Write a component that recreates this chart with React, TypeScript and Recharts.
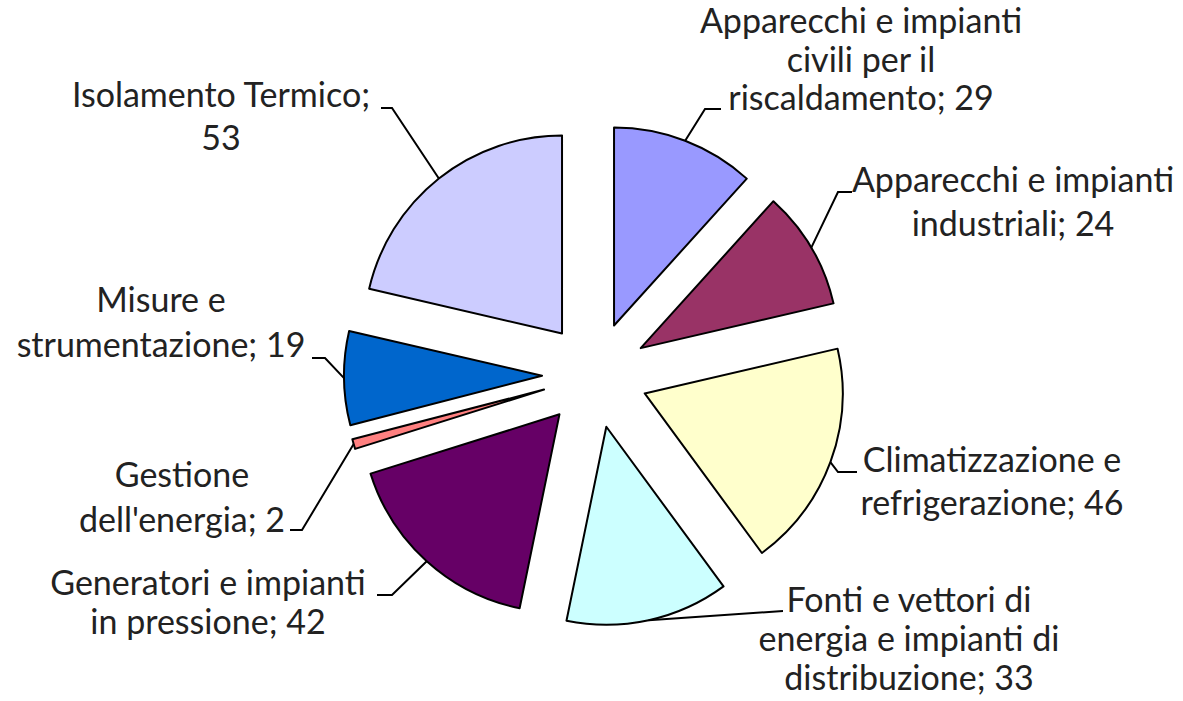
import React from "react";
import { PieChart, Pie, Sector } from "recharts";

const CATEGORIES = [
  "Apparecchi e impianti civili per il riscaldamento",
  "Apparecchi e impianti industriali",
  "Climatizzazione e refrigerazione",
  "Fonti e vettori di energia e impianti di distribuzione",
  "Generatori e impianti in pressione",
  "Gestione dell'energia",
  "Misure e strumentazione",
  "Isolamento Termico",
];
const VALUES = [29, 24, 46, 33, 42, 2, 19, 53];
const COLORS = ["#9999FF", "#993366", "#FFFFCC", "#CCFFFF", "#660066", "#FF8080", "#0066CC", "#CCCCFF"];

// layout: words per line, text centre x, first baseline y, line height, leader elbow & end
const LAYOUT = [
  { words: [3, 3, 2], tx: 861, ty: 33, lh: 38.5, elbow: [705, 109], end: [721, 109] },
  { words: [3, 2], tx: 1013, ty: 192, lh: 44, elbow: [838, 192], end: [852, 192] },
  { words: [2, 2], tx: 992, ty: 472, lh: 43, elbow: [838, 472], end: [857, 472] },
  { words: [4, 4, 2], tx: 909, ty: 612, lh: 39, elbow: [783, 611], end: [783, 611] },
  { words: [3, 3], tx: 208, ty: 595, lh: 38.5, elbow: [392, 595], end: [377, 595] },
  { words: [1, 2], tx: 182, ty: 487, lh: 45, elbow: [302, 530], end: [290, 530] },
  { words: [2, 2], tx: 161, ty: 312, lh: 45, elbow: [325, 358], end: [312, 358] },
  { words: [2, 1], tx: 221, ty: 107, lh: 43, elbow: [392, 108], end: [381, 108] },
];

const data = CATEGORIES.map((name, i) => ({ name, value: VALUES[i] }));

const EXPLODE = 53;
const FONT = 34;
const RAD = Math.PI / 180;

function renderSlice(props: any) {
  const { cx, cy, outerRadius, startAngle, endAngle, midAngle, index, name, value } = props;
  const ox = cx + EXPLODE * Math.cos(-midAngle * RAD);
  const oy = cy + EXPLODE * Math.sin(-midAngle * RAD);
  const ax = ox + outerRadius * Math.cos(-midAngle * RAD);
  const ay = oy + outerRadius * Math.sin(-midAngle * RAD);
  const lay = LAYOUT[index];
  const words = `${name}; ${value}`.split(" ");
  const lines: string[] = [];
  let k = 0;
  lay.words.forEach((n) => {
    lines.push(words.slice(k, k + n).join(" "));
    k += n;
  });
  return (
    <g key={`s-${index}`}>
      <Sector
        cx={ox}
        cy={oy}
        innerRadius={0}
        outerRadius={outerRadius}
        startAngle={startAngle}
        endAngle={endAngle}
        fill={COLORS[index]}
        stroke="#000"
        strokeWidth={2}
        strokeLinejoin="round"
      />
      <polyline
        points={`${ax},${ay} ${lay.elbow[0]},${lay.elbow[1]} ${lay.end[0]},${lay.end[1]}`}
        fill="none"
        stroke="#000"
        strokeWidth={2}
      />
      <text
        x={lay.tx}
        y={lay.ty}
        textAnchor="middle"
        fontFamily="Lato, sans-serif"
        fontSize={FONT}
        fill="#222"
      >
        {lines.map((l, j) => (
          <tspan key={j} x={lay.tx} y={lay.ty + j * lay.lh}>
            {l}
          </tspan>
        ))}
      </text>
    </g>
  );
}

export default function App() {
  return (
    <div style={{ position: "absolute", left: 0, top: 0, background: "#fff" }}>
      <PieChart width={1183} height={701}>
        <Pie
          data={data}
          dataKey="value"
          nameKey="name"
          cx={590}
          cy={370}
          outerRadius={198}
          startAngle={90}
          endAngle={-270}
          fill="none"
          stroke="none"
          label={renderSlice}
          labelLine={false}
          isAnimationActive={false}
        />
      </PieChart>
    </div>
  );
}
